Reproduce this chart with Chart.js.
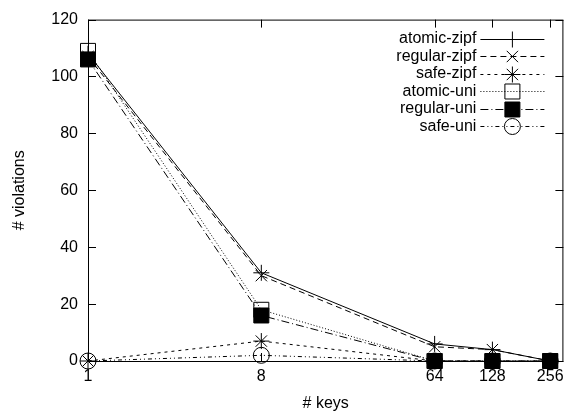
<!DOCTYPE html>
<html>
<head>
<meta charset="utf-8">
<script src="https://cdn.jsdelivr.net/npm/chart.js@4/dist/chart.umd.min.js"></script>
<style>
  html, body { margin: 0; background: #fff; }
  #wrap { width: 575px; height: 413px; }
</style>
</head>
<body>
<div id="wrap"><canvas id="chart"></canvas></div>
<script>
/* data */
const keys = [1, 8, 64, 128, 256];
const yTicks = [0, 20, 40, 60, 80, 100, 120];
const atomicZipf = [108, 31, 6, 4, 0];
const regularZipf = [107, 30, 5, 4, 0];
const safeZipf = [0, 7, 0, 0, 0];
const atomicUni = [109, 18, 0, 0, 0];
const regularUni = [106, 16, 0, 0, 0];
const safeUni = [0, 2, 0, 0, 0];

const FONT = "'Liberation Sans', Arial, sans-serif";
const pts = arr => keys.map((k, i) => ({ x: k, y: arr[i] }));

function series(label, arr, dash, style, radius, fill, idx) {
  return {
    label,
    data: pts(arr),
    borderColor: "#000",
    borderWidth: 1,
    borderDash: dash,
    pointStyle: style,
    pointRadius: radius,
    pointBorderWidth: 1,
    pointBorderColor: "#000",
    pointBackgroundColor: fill,
    backgroundColor: fill,
    tension: 0,
    clip: false,
    order: 5 - idx
  };
}

const datasets = [
  series("atomic-zipf", atomicZipf, [], "cross", 8, "rgba(0,0,0,0)", 0),
  series("regular-zipf", regularZipf, [6, 4], "crossRot", 8, "rgba(0,0,0,0)", 1),
  series("safe-zipf", safeZipf, [3, 4], "star", 8, "rgba(0,0,0,0)", 2),
  series("atomic-uni", atomicUni, [1, 2], "rect", 10.6, "rgba(0,0,0,0)", 3),
  series("regular-uni", regularUni, [8, 3, 1, 3], "rect", 10.6, "#000", 4),
  series("safe-uni", safeUni, [4, 3, 1, 3, 1, 3], "circle", 8, "rgba(0,0,0,0)", 5)
];

/* gnuplot style box with inward ticks */
const frame = {
  id: "frame",
  beforeDatasetsDraw(chart) {
    const ctx = chart.ctx, a = chart.chartArea;
    const xs = chart.scales.x, ys = chart.scales.y;
    ctx.save();
    ctx.strokeStyle = "#000";
    ctx.lineWidth = 1;
    ctx.setLineDash([]);
    ctx.strokeRect(a.left + 0.5, a.top + 0.5, a.right - a.left - 1, a.bottom - a.top);
    ctx.beginPath();
    keys.forEach(k => {
      const x = Math.round(xs.getPixelForValue(k)) + 0.5;
      ctx.moveTo(x, a.bottom); ctx.lineTo(x, a.bottom - 8);
      ctx.moveTo(x, a.top); ctx.lineTo(x, a.top + 8);
    });
    yTicks.forEach(v => {
      const y = Math.round(ys.getPixelForValue(v)) + 0.5;
      ctx.moveTo(a.left, y); ctx.lineTo(a.left + 8, y);
      ctx.moveTo(a.right, y); ctx.lineTo(a.right - 8, y);
    });
    ctx.stroke();
    ctx.restore();
  }
};

/* key in the top right, text first then sample */
const keyBox = {
  id: "keyBox",
  afterDraw(chart) {
    const ctx = chart.ctx, a = chart.chartArea;
    ctx.save();
    ctx.font = "16px " + FONT;
    ctx.textAlign = "right";
    ctx.textBaseline = "middle";
    chart.data.datasets.forEach((ds, i) => {
      const y = a.top + 19 + i * 17.5;
      ctx.fillStyle = "#000";
      ctx.fillText(ds.label, a.right - 87, y);
      ctx.strokeStyle = "#000";
      ctx.lineWidth = 1;
      ctx.setLineDash(ds.borderDash);
      ctx.beginPath();
      ctx.moveTo(a.right - 83, Math.round(y) + 0.5);
      ctx.lineTo(a.right - 19, Math.round(y) + 0.5);
      ctx.stroke();
      ctx.setLineDash([]);
      ctx.fillStyle = ds.pointBackgroundColor;
      if (Chart.helpers && Chart.helpers.drawPoint) {
        Chart.helpers.drawPoint(ctx, {
          pointStyle: ds.pointStyle, radius: ds.pointRadius,
          borderWidth: 1, rotation: 0
        }, a.right - 51, Math.round(y) + 0.5);
      }
    });
    ctx.restore();
  }
};

const ctx = document.getElementById("chart").getContext("2d");
const chart = new Chart(ctx, {
  type: "line",
  data: { datasets },
  plugins: [frame, keyBox],
  options: {
    responsive: true,
    maintainAspectRatio: false,
    animation: false,
    layout: { padding: { top: 11, right: 11, left: 0, bottom: 0 } },
    plugins: { legend: { display: false }, tooltip: { enabled: false } },
    scales: {
      x: {
        type: "logarithmic",
        min: 1,
        max: 300,
        grid: { display: false, drawTicks: false },
        border: { display: false },
        afterBuildTicks: s => { s.ticks = keys.map(v => ({ value: v })); },
        afterFit: s => { s.height = 52; },
        ticks: {
          autoSkip: false,
          maxRotation: 0,
          padding: 6,
          color: "#000",
          font: { size: 16, family: FONT },
          callback: v => String(v)
        },
        title: {
          display: true,
          text: "# keys",
          color: "#000",
          font: { size: 16, family: FONT },
          padding: { top: 0, bottom: 0 }
        }
      },
      y: {
        min: 0,
        max: 120,
        grid: { display: false, drawTicks: false },
        border: { display: false },
        afterBuildTicks: s => { s.ticks = yTicks.map(v => ({ value: v })); },
        afterFit: s => { s.width = 88; },
        ticks: {
          padding: 10,
          color: "#000",
          font: { size: 16, family: FONT }
        },
        title: {
          display: true,
          text: "# violations",
          color: "#000",
          font: { size: 16, family: FONT },
          padding: { top: 10, bottom: 0 }
        }
      }
    }
  }
});
</script>
</body>
</html>
